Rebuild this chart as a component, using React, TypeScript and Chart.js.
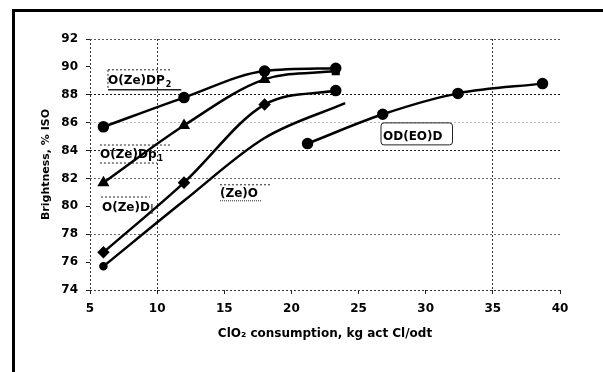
import React, { useEffect, useRef } from "react";
import { Chart, registerables } from "chart.js";

Chart.register(...registerables);

// ---- Data ----
const xMin = 5;
const xMax = 40;
const xStep = 5;
const yMin = 74;
const yMax = 92;
const yStep = 2;

const stageX = [6, 12, 18, 23.3];
const dp2Brightness = [85.7, 87.8, 89.7, 89.9];
const dp1Brightness = [81.7, 85.8, 89.1, 89.7];
const dBrightness = [76.7, 81.7, 87.3, 88.3];

const zeoX = [6, 12, 18, 24];
const zeoBrightness = [75.7, 80.4, 84.9, 87.4];

const odeodX = [21.2, 26.8, 32.4, 38.7];
const odeodBrightness = [84.5, 86.6, 88.1, 88.8];

const xTitle = "ClO\u2082 consumption, kg act Cl/odt";
const yTitle = "Brightness, % ISO";

// ---- Styles ----
const FONT = '"DejaVu Sans", "Liberation Sans", Arial, sans-serif';

type Note = { text: string; sub?: string; x: number; y: number; frame: string };
const notes: Note[] = [
  { text: "O(Ze)DP", sub: "2", x: 6.34, y: 89.0, frame: "boxDP2" },
  { text: "O(Ze)Dp", sub: "1", x: 5.74, y: 83.68, frame: "lines" },
  { text: "O(Ze)D", x: 5.89, y: 79.88, frame: "lineAbove" },
  { text: "(Ze)O", x: 14.68, y: 80.9, frame: "underline" },
  { text: "OD(EO)D", x: 26.82, y: 84.98, frame: "box" },
];

const yGridColors: Record<number, string> = {
  92: "#555",
  88: "#111",
  86: "#bbb",
  84: "#222",
  82: "#666",
  78: "#666",
  74: "#333",
};
const xGridColors: Record<number, string> = {
  5: "#333",
  10: "#333",
  35: "#333",
};

const notesPlugin = {
  id: "notes",
  afterDatasetsDraw(chart: any) {
    const { ctx, scales } = chart;
    const xs = scales.x;
    const ys = scales.y;
    ctx.save();
    ctx.fillStyle = "#000";
    ctx.strokeStyle = "#222";
    ctx.textBaseline = "middle";
    ctx.textAlign = "left";
    for (const n of notes) {
      const px = xs.getPixelForValue(n.x);
      const py = ys.getPixelForValue(n.y);
      ctx.font = `bold 12px ${FONT}`;
      ctx.fillText(n.text, px, py);
      let w = ctx.measureText(n.text).width;
      if (n.sub) {
        ctx.font = `bold 8px ${FONT}`;
        ctx.fillText(n.sub, px + w + 1, py + 4);
        w += ctx.measureText(n.sub).width + 1;
      }
      const line = (x1: number, y1: number, x2: number, y2: number, dash: number[], lw: number) => {
        ctx.beginPath();
        ctx.setLineDash(dash);
        ctx.lineWidth = lw;
        ctx.moveTo(x1, y1);
        ctx.lineTo(x2, y2);
        ctx.stroke();
      };
      if (n.frame === "boxDP2") {
        line(px, py - 11, px + w, py - 11, [2, 2], 1);
        line(px, py - 11, px, py + 9, [2, 2], 1);
        line(px, py + 9, px + w + 10, py + 9, [], 1.5);
      } else if (n.frame === "lines") {
        line(px, py - 10, px + w + 8, py - 10, [2, 2], 1);
        line(px, py + 8, px + w - 6, py + 8, [2, 2], 1);
      } else if (n.frame === "lineAbove") {
        line(px - 1, py - 11, px + w, py - 11, [2, 2], 1);
        line(px + w + 2, py - 4, px + w + 2, py + 6, [], 1.2);
      } else if (n.frame === "underline") {
        line(px, py - 9, px + w + 14, py - 9, [2, 2], 1);
        line(px, py + 7, px + w + 4, py + 7, [1, 1], 1);
      } else if (n.frame === "box") {
        ctx.setLineDash([]);
        ctx.lineWidth = 1;
        ctx.beginPath();
        if (ctx.roundRect) ctx.roundRect(px - 2, py - 14, w + 12, 22, 3);
        else ctx.rect(px - 2, py - 14, w + 12, 22);
        ctx.stroke();
      }
    }
    ctx.restore();
  },
};

const toPoints = (xs: number[], ys: number[]) => xs.map((x, i) => ({ x, y: ys[i] }));

export default function App() {
  const canvasRef = useRef<HTMLCanvasElement>(null);

  useEffect(() => {
    const canvas = canvasRef.current;
    if (!canvas) return;
    const common = {
      showLine: true,
      borderColor: "#000",
      backgroundColor: "#000",
      pointBorderColor: "#000",
      pointBackgroundColor: "#000",
      borderWidth: 2.5,
      cubicInterpolationMode: "monotone" as const,
      pointRadius: 4.5,
    };
    const chart = new Chart(canvas, {
      type: "scatter",
      data: {
        datasets: [
          { ...common, label: "O(Ze)DP2", data: toPoints(stageX, dp2Brightness), pointStyle: "circle" },
          {
            ...common,
            label: "O(Ze)Dp1",
            data: toPoints(stageX, dp1Brightness),
            pointStyle: ["triangle", "triangle", "triangle", "rect"],
            pointRadius: [4.5, 4.5, 4.5, 4],
          },
          {
            ...common,
            label: "O(Ze)D",
            data: toPoints(stageX, dBrightness),
            pointStyle: ["rectRot", "rectRot", "rectRot", "circle"],
          },
          {
            ...common,
            label: "(Ze)O",
            data: toPoints(zeoX, zeoBrightness),
            pointStyle: "circle",
            pointRadius: [3, 0, 0, 0],
          },
          { ...common, label: "OD(EO)D", data: toPoints(odeodX, odeodBrightness), pointStyle: "circle" },
        ],
      },
      options: {
        responsive: false,
        animation: false,
        events: [],
        layout: { padding: { left: 0, right: 43, top: 39, bottom: 0 } },
        plugins: {
          legend: { display: false },
          tooltip: { enabled: false },
        },
        scales: {
          x: {
            type: "linear",
            min: xMin,
            max: xMax,
            afterFit: (s: any) => {
              s.height = 82;
            },
            ticks: {
              stepSize: xStep,
              color: "#000",
              padding: 8,
              font: { family: FONT, size: 12, weight: "bold" },
            },
            grid: {
              color: (c: any) => xGridColors[c.tick?.value] || "rgba(0,0,0,0)",
              lineWidth: 1,
              tickLength: 4,
              tickColor: "#222",
            },
            border: { display: false, dash: [2, 2] },
            title: {
              display: true,
              text: xTitle,
              color: "#000",
              font: { family: FONT, size: 12, weight: "bold" },
              padding: { top: 0, bottom: 31 },
            },
          },
          y: {
            type: "linear",
            min: yMin,
            max: yMax,
            afterFit: (s: any) => {
              s.width = 90;
            },
            ticks: {
              stepSize: yStep,
              color: "#000",
              padding: 8,
              font: { family: FONT, size: 12, weight: "bold" },
            },
            grid: {
              color: (c: any) => yGridColors[c.tick?.value] || "rgba(0,0,0,0)",
              lineWidth: 1,
              tickLength: 4,
              tickColor: "#222",
            },
            border: { display: false, dash: [2, 2] },
            title: {
              display: true,
              text: yTitle,
              color: "#000",
              font: { family: FONT, size: 11, weight: "bold" },
              padding: { top: 40, bottom: 0 },
            },
          },
        },
      },
      plugins: [notesPlugin],
    });
    return () => chart.destroy();
  }, []);

  return (
    <div style={{ position: "fixed", left: 0, top: 0, width: 603, height: 372, background: "#fff", overflow: "hidden" }}>
      <canvas ref={canvasRef} width={603} height={372} style={{ display: "block" }} />
      <div
        style={{
          position: "absolute",
          left: 12,
          top: 9,
          width: 700,
          height: 500,
          borderLeft: "3px solid #000",
          borderTop: "3px solid #000",
        }}
      />
    </div>
  );
}
